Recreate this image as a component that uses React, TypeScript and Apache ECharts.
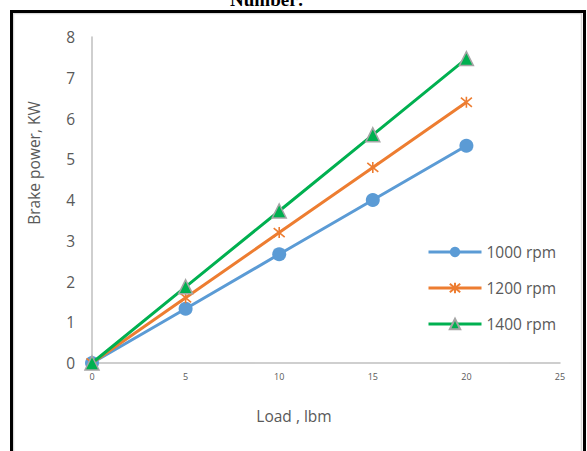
import React, { useEffect, useRef } from "react";
import * as echarts from "echarts";

const loads = [0, 5, 10, 15, 20];
const rpm1000 = [0, 1.33, 2.67, 4.0, 5.33];
const rpm1200 = [0, 1.6, 3.2, 4.8, 6.4];
const rpm1400 = [0, 1.87, 3.73, 5.6, 7.47];
const seriesNames = ["1000 rpm", "1200 rpm", "1400 rpm"];

const asterisk = "path://M0,0 L10,10 M10,0 L0,10 M5,-1 L5,11";

export default function App() {
  const ref = useRef<HTMLDivElement>(null);
  useEffect(() => {
    if (!ref.current) return;
    const chart = echarts.init(ref.current, null, { renderer: "svg" });
    const pair = (ys: number[]) => loads.map((x, i) => [x, ys[i]]);
    const font = "'Open Sans', 'Noto Sans', sans-serif";
    chart.setOption({
      animation: false,
      backgroundColor: "#ffffff",
      textStyle: { fontFamily: font },
      grid: { left: 92, right: 27, top: 37, bottom: 88, containLabel: false },
      xAxis: {
        type: "value",
        min: 0,
        max: 25,
        interval: 5,
        axisLine: { show: true, lineStyle: { color: "#bfbfbf", width: 1.5 } },
        axisTick: { show: false },
        splitLine: { show: false },
        axisLabel: { fontSize: 9, color: "#595959", margin: 9, fontFamily: font },
      },
      yAxis: {
        type: "value",
        min: 0,
        max: 8,
        interval: 1,
        axisLine: { show: true, lineStyle: { color: "#bfbfbf", width: 1.5 } },
        axisTick: { show: false },
        splitLine: { show: false },
        axisLabel: { fontSize: 15.5, color: "#595959", margin: 17, fontFamily: font },
      },
      legend: {
        orient: "vertical",
        left: 422,
        top: 239,
        itemWidth: 53,
        itemHeight: 13,
        itemGap: 20,
        lineStyle: { width: 3 },
        textStyle: { fontSize: 15.5, color: "#595959", fontFamily: font },
        data: seriesNames,
      },
      series: [
        {
          name: seriesNames[0],
          type: "line",
          data: pair(rpm1000),
          symbol: "circle",
          symbolSize: 14,
          lineStyle: { color: "#5b9bd5", width: 3 },
          itemStyle: { color: "#5b9bd5" },
          z: 2,
        },
        {
          name: seriesNames[1],
          type: "line",
          data: pair(rpm1200),
          symbol: asterisk,
          symbolSize: 11,
          lineStyle: { color: "#ed7d31", width: 3 },
          itemStyle: { color: "#ed7d31", borderColor: "#ed7d31", borderWidth: 1.6 },
          z: 3,
        },
        {
          name: seriesNames[2],
          type: "line",
          data: pair(rpm1400),
          symbol: "triangle",
          symbolSize: 14,
          lineStyle: { color: "#00b050", width: 3 },
          itemStyle: { color: "#00b050", borderColor: "#a5a5a5", borderWidth: 1.5 },
          z: 4,
        },
      ],
      graphic: [
        {
          type: "rect",
          shape: { x: 13.5, y: 13.5, width: 568, height: 460 },
          style: { fill: "none", stroke: "#d9d9d9", lineWidth: 1.5 },
          silent: true,
        },
        {
          type: "rect",
          shape: { x: 11.5, y: 11.5, width: 573, height: 470 },
          style: { fill: "none", stroke: "#000000", lineWidth: 3 },
          silent: true,
        },
        {
          type: "text",
          x: 267,
          y: 9,
          style: {
            text: "Number:",
            fontFamily: "'Liberation Serif', 'Times New Roman', serif",
            fontWeight: "bold",
            fontSize: 19,
            fill: "#000000",
            textAlign: "center",
            textVerticalAlign: "bottom",
          },
        },
        {
          type: "text",
          x: 34,
          y: 163,
          rotation: Math.PI / 2,
          style: {
            text: "Brake power, KW",
            fontFamily: font,
            fontSize: 15.5,
            fill: "#595959",
            textAlign: "center",
            textVerticalAlign: "middle",
          },
        },
        {
          type: "text",
          x: 294,
          y: 416,
          style: {
            text: "Load , lbm",
            fontFamily: font,
            fontSize: 15.5,
            fill: "#595959",
            textAlign: "center",
            textVerticalAlign: "middle",
          },
        },
      ],
    });
    return () => chart.dispose();
  }, []);
  return (
    <div
      ref={ref}
      style={{ position: "fixed", left: 0, top: 0, width: 587, height: 451 }}
    />
  );
}
